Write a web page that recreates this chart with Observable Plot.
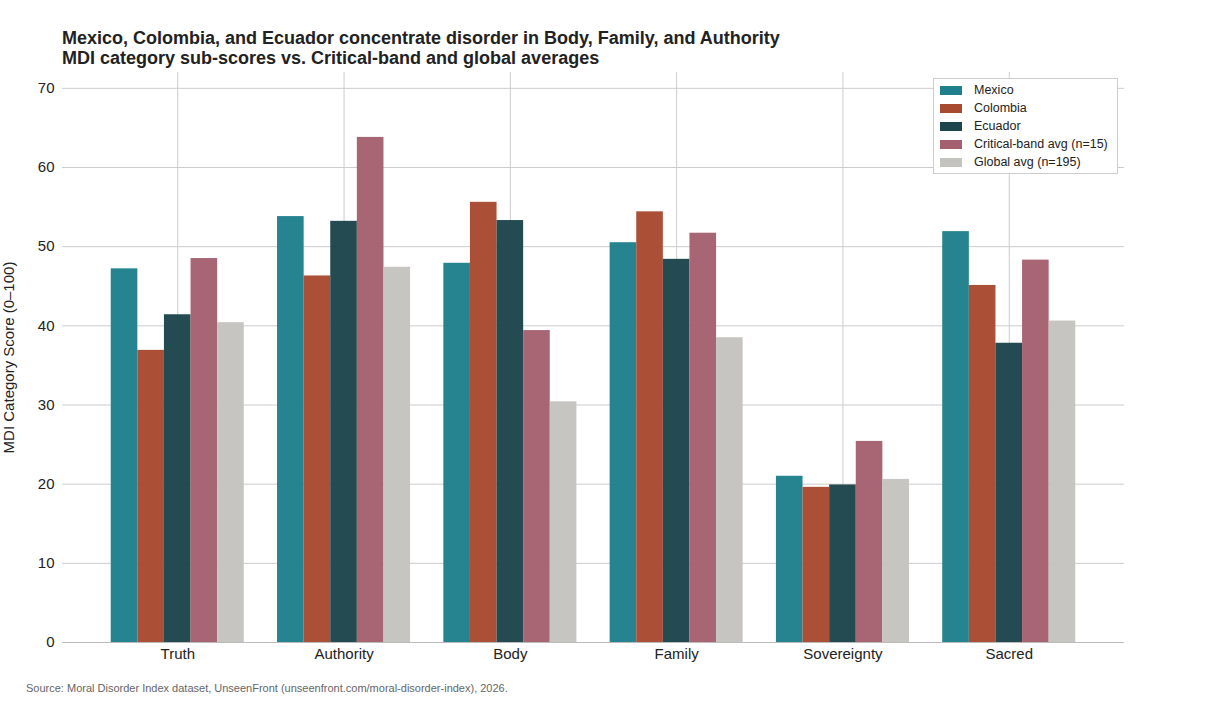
<!DOCTYPE html>
<html><head><meta charset="utf-8">
<script src="https://cdn.jsdelivr.net/npm/d3@7"></script>
<script src="https://cdn.jsdelivr.net/npm/@observablehq/plot@0.6"></script>
<style>
body{margin:0;background:#fff;font-family:"Liberation Sans",Arial,sans-serif;}
#wrap{position:relative;width:1212px;height:722px;}
#title{height:70px;box-sizing:border-box;padding:28px 0 0 62px;font-weight:bold;font-size:18px;line-height:20px;color:#222;}
#src{position:absolute;left:26px;top:682px;font-size:11px;color:#666;}
#legend{position:absolute;left:933px;top:78px;width:183px;border:1px solid #ccc;background:#fff;font-size:12.5px;color:#222;padding:2px 0;}
#legend div{display:flex;align-items:center;height:18px;padding-left:6px;}
#legend span{display:inline-block;width:22px;height:9px;margin-right:12px;}
</style></head><body>
<div id="wrap">
<div id="title">Mexico, Colombia, and Ecuador concentrate disorder in Body, Family, and Authority<br>MDI category sub-scores vs. Critical-band and global averages</div>
<div id="chart"></div>
<div id="legend"></div>
<div id="src">Source: Moral Disorder Index dataset, UnseenFront (unseenfront.com/moral-disorder-index), 2026.</div>
</div>
<script>
const categories = ["Truth","Authority","Body","Family","Sovereignty","Sacred"];
const series = ["Mexico","Colombia","Ecuador","Critical-band avg (n=15)","Global avg (n=195)"];
const colors = ["#1f7f8c","#a84a30","#1d454b","#a56070","#c5c3bf"];
const mexico   = [47.2,53.8,47.9,50.5,21.0,51.9];
const colombia = [36.9,46.3,55.6,54.4,19.6,45.1];
const ecuador  = [41.4,53.2,53.3,48.4,19.9,37.8];
const critical = [48.5,63.8,39.4,51.7,25.4,48.3];
const global   = [40.4,47.4,30.4,38.5,20.6,40.6];
const yTicks = [0,10,20,30,40,50,60,70];

const vals = [mexico,colombia,ecuador,critical,global];
const bw = 0.16;
const data = [];
categories.forEach((c,i)=>series.forEach((s,j)=>data.push({
  category:c,series:s,value:vals[j][i],
  x1:i+(j-2.5)*bw, x2:i+(j-1.5)*bw})));
const idx = categories.map((c,i)=>i);

const chart = Plot.plot({
  width:1212,height:600,marginLeft:62,marginRight:88,marginTop:2,marginBottom:28,
  style:{fontFamily:"Liberation Sans, Arial, sans-serif",fontSize:"15px",color:"#222"},
  x:{domain:[-0.693,5.693],ticks:idx,tickFormat:i=>categories[i],label:null,tickSize:0,tickPadding:6},
  y:{domain:[0,72],ticks:yTicks,label:"MDI Category Score (0–100)",labelAnchor:"center",labelArrow:"none",tickSize:0,tickPadding:8},
  color:{domain:series,range:colors},
  marks:[
    Plot.gridY(yTicks,{stroke:"#ccc",strokeOpacity:1}),
    Plot.gridX(idx,{stroke:"#ccc",strokeOpacity:1}),
    Plot.rectY(data,{x1:"x1",x2:"x2",y:"value",fill:"series",fillOpacity:0.97,inset:0}),
    Plot.ruleY([0],{stroke:"#bbb"})
  ]
});
document.getElementById("chart").appendChild(chart);
const lg=document.getElementById("legend");
series.forEach((s,i)=>{const d=document.createElement("div");d.innerHTML=`<span style="background:${colors[i]}"></span>${s}`;lg.appendChild(d);});
</script>
</body></html>
